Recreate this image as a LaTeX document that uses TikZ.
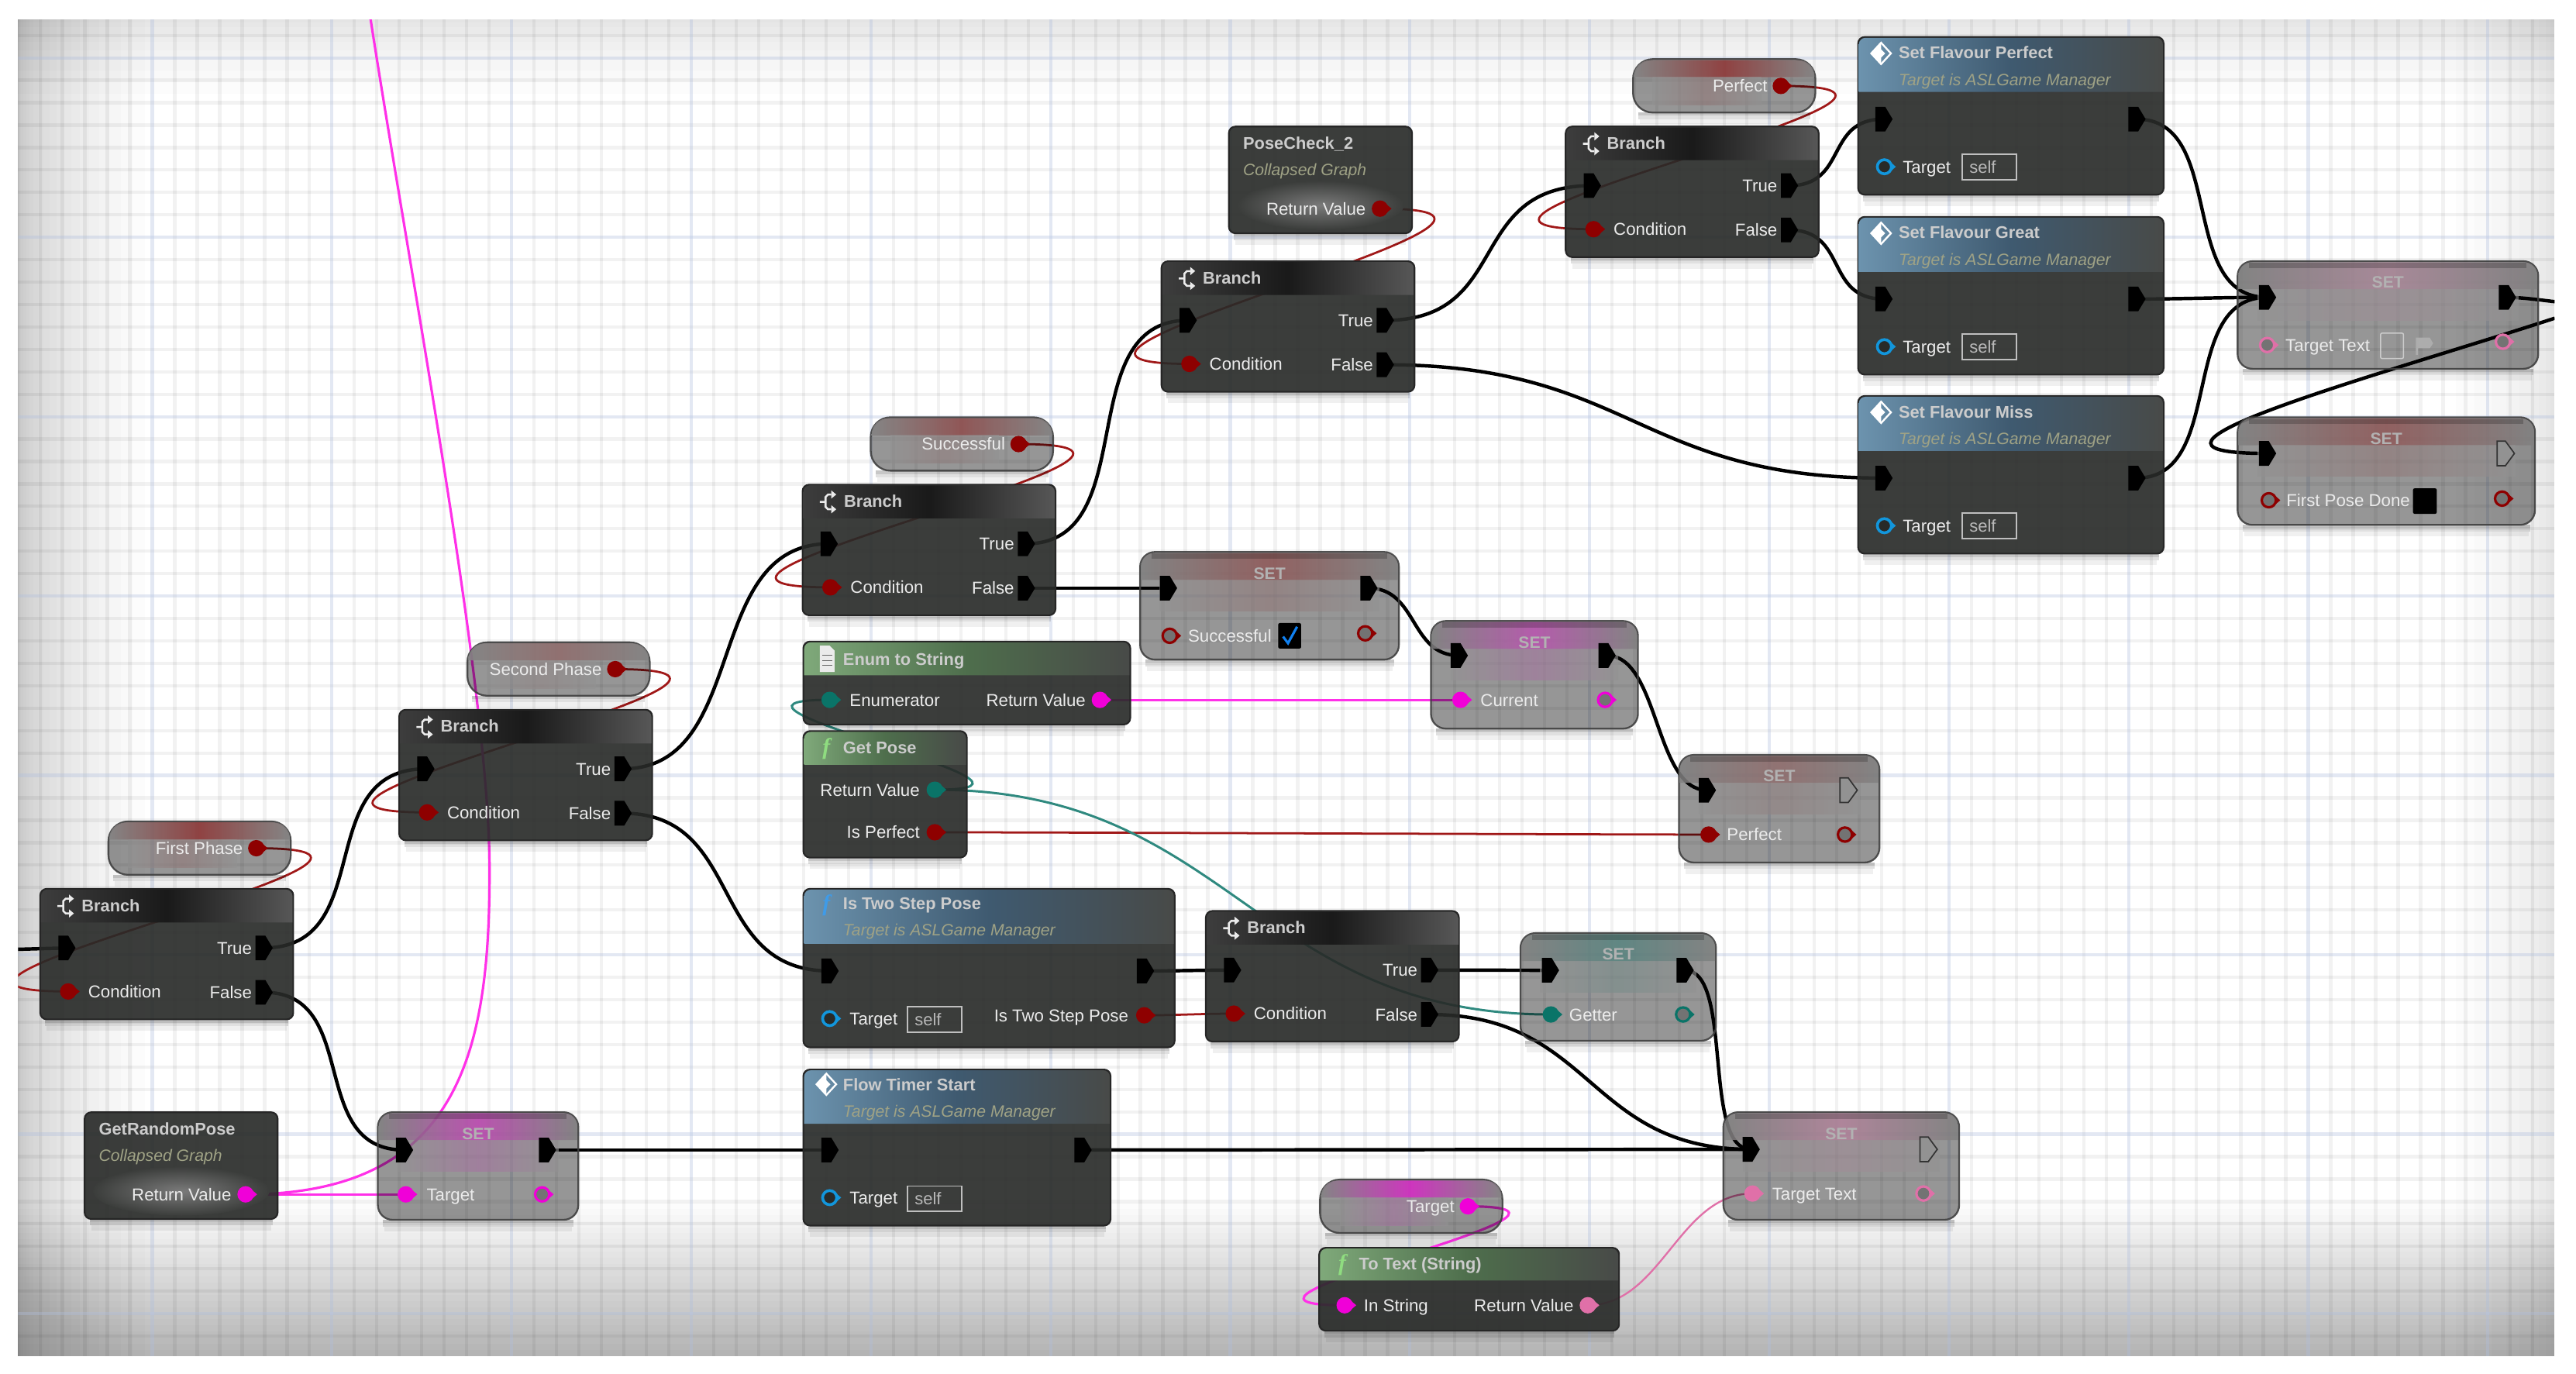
\documentclass[tikz,border=0pt]{standalone}
\usepackage{fontspec}
\setmainfont{Liberation Sans}
\usetikzlibrary{calc}
\pgfdeclarelayer{bgl}\pgfdeclarelayer{wirel}
\pgfsetlayers{bgl,wirel,main}
\definecolor{DB}{HTML}{282A28}
\definecolor{DBseen}{HTML}{3B3D3B}
\definecolor{nred}{HTML}{8E0000}
\definecolor{wred}{HTML}{A01818}
\definecolor{nteal}{HTML}{0A7468}
\definecolor{nmag}{HTML}{F000D8}
\definecolor{wmag}{HTML}{FF30E8}
\definecolor{npink}{HTML}{E070A8}
\definecolor{nblue}{HTML}{1296DC}
\definecolor{olive}{HTML}{9FA285}
\definecolor{ngray}{HTML}{929292}
\definecolor{hbL}{HTML}{6C93AE}
\definecolor{hbM}{HTML}{3F5A70}
\definecolor{hR}{HTML}{484A48}
\definecolor{hgL}{HTML}{7FA97A}
\definecolor{hgM}{HTML}{4E6E4C}
\definecolor{majorb}{HTML}{C4D4F6}
\definecolor{fblue}{HTML}{3F9BE8}
\definecolor{fcheck}{HTML}{1080F0}
\definecolor{fgreen}{HTML}{8FDC80}
\tikzset{
 execw/.style={draw=black,line width=2.1pt},
 redw/.style={draw=wred,line width=1.3pt},
 tealw/.style={draw=nteal!85!white,line width=1.4pt},
 magw/.style={draw=wmag,line width=1.5pt},
 pinkw/.style={draw=npink,line width=1.1pt},
 darkb/.style={rectangle,fill=DB,fill opacity=.91,draw=black!85,line width=1pt,rounded corners=4pt,inner sep=0pt,outer sep=0pt,anchor=north west},
 grayb/.style={rectangle,fill=black,fill opacity=.41,draw=black!75,draw opacity=.9,line width=1.1pt,rounded corners=9pt,inner sep=0pt,outer sep=0pt,anchor=north west},
 varb/.style={grayb,rounded corners=12pt},
 lbl/.style={font=\fontsize{10.5}{12}\selectfont,text=white!92!black,inner sep=0pt,anchor=west,text height=8pt,text depth=.5pt},
 lblr/.style={lbl,anchor=east},
 ttl/.style={font=\bfseries\fontsize{10.3}{12}\selectfont,text=white!80!black,inner sep=0pt,anchor=west,text height=8pt,text depth=.5pt},
 subt/.style={font=\itshape\fontsize{10}{12}\selectfont,text=olive,inner sep=0pt,anchor=west,text height=8pt,text depth=.5pt},
 settxt/.style={font=\bfseries\fontsize{10}{12}\selectfont,text=white!70!black,inner sep=0pt},
 selfb/.style={rectangle,draw=white!75!black,line width=.7pt,inner sep=0pt,font=\fontsize{10.4}{12}\selectfont,text=white!72!black,anchor=north west},
}
% body: name x1 y1 x2 y2 style
\newcommand\nbody[6]{%
 \pgfmathsetmacro\bw{#4-(#2)}\pgfmathsetmacro\bh{#5-(#3)}%
 \fill[black,opacity=.22] ({#2+3},{#5}) rectangle ({#4-3},{#5+2});
 \fill[black,opacity=.12] ({#2+3},{#5+2}) rectangle ({#4-3},{#5+4});
 \fill[black,opacity=.06] ({#2+4},{#5+4}) rectangle ({#4-4},{#5+7});
 \node[#6,minimum width=\bw pt,minimum height=\bh pt] (#1) at ({#2},{#3}) {};}
% header: x1 y1 x2 ybottom left mid right
\newcommand\hdr[7]{%
 \shade[left color=#5,right color=#7,middle color=#6]
   ({#1+.5},{#4}) [rounded corners=4pt] -- ({#1+.5},{#2+.5}) -- ({#3-.5},{#2+.5}) [sharp corners] -- ({#3-.5},{#4}) -- cycle;}
% SET band: x1 y1 x2 accent
\newcommand\setband[4]{%
 \shade[left color=ngray!88!black,right color=ngray!88!black,middle color=#4!72!ngray,opacity=.85]
   ({#1+.5},{#2+17}) [rounded corners=8pt] -- ({#1+.5},{#2+.6}) -- ({#3-.5},{#2+.6}) [sharp corners] -- ({#3-.5},{#2+17}) -- cycle;
 \shade[left color=ngray,right color=ngray,middle color=#4!32!ngray,opacity=.6]
   ({#1+12},{#2+17}) rectangle ({#3-12},{#2+36});
 \fill[black,opacity=.2] ({#1+7},{#2+1}) rectangle ({#3-7},{#2+4});}
% pins
\newcommand\xpin[3]{\coordinate (#1) at ({#2},{#3});
 \fill[black] (#1) +(-5,-7.5) -- +(1,-7.5) -- +(5.5,0) -- +(1,7.5) -- +(-5,7.5) -- cycle;}
\newcommand\xhol[3]{\coordinate (#1) at ({#2},{#3});
 \draw[black!80,line width=.8pt,fill=ngray] (#1) +(-5,-7.5) -- +(0,-7.5) -- +(5.5,0) -- +(0,7.5) -- +(-5,7.5) -- cycle;}
\newcommand\dpin[4]{\node[circle,fill=#4,minimum size=10pt,inner sep=0pt] (#1) at ({#2},{#3}) {};
 \fill[#4] (#1) +(3,-3.4) -- +(7,0) -- +(3,3.4) -- cycle;}
\newcommand\rpin[4]{\node[circle,draw=#4,line width=1.5pt,fill=black!55,minimum size=8.6pt,inner sep=0pt] (#1) at ({#2},{#3}) {};
 \fill[#4] (#1) +(4,-2.6) -- +(7,0) -- +(4,2.6) -- cycle;}
\newcommand\tpin[3]{\node[circle,draw=nblue,line width=1.7pt,fill=DB,minimum size=8.6pt,inner sep=0pt] (#1) at ({#2},{#3}) {};
 \fill[nblue] (#1) +(4,-2.6) -- +(7,0) -- +(4,2.6) -- cycle;}
\newcommand\lab[4]{\node[lbl] (#1) at ({#2},{#3}) {#4};}
\newcommand\labr[4]{\node[lblr] (#1) at ({#2},{#3}) {#4};}
% icons
\newcommand\ibranch[2]{\begin{scope}[shift={({#1},{#2})},white!92!black,line width=1.2pt]
 \draw (-6,0) -- (-2.5,0) (1,-4.5) -- (-1,-4.5) -- (-2.5,-3) -- (-2.5,3) -- (-1,4.5) -- (1,4.5);
 \fill (1,-7) -- (4,-4.5) -- (1,-2) -- cycle (1,2) -- (4,4.5) -- (1,7) -- cycle;
 \end{scope}}
\newcommand\idiamond[2]{\begin{scope}[shift={({#1},{#2})}]
 \draw[white,line width=1.1pt] (-6,0) -- (0,-6.5) -- (6,0) -- (0,6.5) -- cycle;
 \fill[white] (-6,0) -- (0,-6.5) -- (0,-2.5) -- (2.5,0) -- (0,2.5) -- (0,6.5) -- cycle;
 \end{scope}}
\newcommand\idoc[2]{\begin{scope}[shift={({#1},{#2})}]
 \fill[white!92!black] (-4,-8) -- (2,-8) -- (5,-5) -- (5,8) -- (-4,8) -- cycle;
 \draw[black!60,line width=.6pt] (-2.5,-2) -- (3.5,-2) (-2.5,1) -- (3.5,1) (-2.5,4) -- (3.5,4);
 \end{scope}}
\newcommand\ifn[3]{\node[font=\fontspec{Liberation Serif}\itshape\bfseries\fontsize{14}{14}\selectfont,text=#3,inner sep=0pt] (#1) at (#2) {f};}
% composite nodes
\newcommand\bnode[3]{%
 \nbody{#1}{#2}{#3}{#2+154}{#3+79.5}{darkb}
 \hdr{#2}{#3}{#2+154}{#3+20.5}{black!76}{black!90}{black!66}
 \ibranch{#2+16.5}{#3+10.5}
 \node[ttl] (#1t) at ({#2+25},{#3+10}) {Branch};
 \xpin{#1in}{#2+16}{#3+36}\xpin{#1tr}{#2+136}{#3+36}
 \dpin{#1c}{#2+17}{#3+62.5}{nred}\xpin{#1fa}{#2+136}{#3+63}
 \labr{#1la}{#2+129}{#3+36}{True}\labr{#1lb}{#2+129}{#3+63}{False}
 \lab{#1lc}{#2+29}{#3+62.5}{Condition}}
\newcommand\collapsed[5]{%
 \nbody{#1}{#2}{#3}{#4}{#3+65}{darkb}
 \shade[inner color=black!52,outer color=DBseen] ({(#2+#4)/2},{#3+48}) ellipse ({(#4-#2)/2-5} and 15);
 \node[ttl] (#1t) at ({#2+8.5},{#3+10}) {#5};
 \node[subt] (#1s) at ({#2+8.5},{#3+26}) {Collapsed Graph};
 \labr{#1l}{#4-28}{#3+50}{Return Value}}
\newcommand\setfn[4]{% name x y title
 \nbody{#1}{#2}{#3}{#2+186}{#3+96}{darkb}
 \hdr{#2}{#3}{#2+186}{#3+33.5}{hbL}{hbM}{hR}
 \idiamond{#2+14}{#3+10}
 \node[ttl] (#1t) at ({#2+24.5},{#3+9.5}) {#4};
 \node[subt] (#1s) at ({#2+24.5},{#3+26}) {Target is ASLGame Manager};
 \xpin{#1in}{#2+15.5}{#3+50}\xpin{#1out}{#2+169.5}{#3+50}
 \tpin{#1tg}{#2+16}{#3+79}
 \lab{#1l}{#2+27}{#3+79}{Target}
 \node[selfb,minimum width=33pt,minimum height=15.5pt] (#1b) at ({#2+63},{#3+71}) {\hspace*{-8pt}self};}
\newcommand\setnode[5]{% name x1 y1 x2 accent
 \nbody{#1}{#2}{#3}{#4}{#3+65.5}{grayb}
 \setband{#2}{#3}{#4}{#5}
 \node[settxt] (#1t) at ({(#2+#4)/2},{#3+13}) {SET};}
\newcommand\varnode[6]{% name x1 y1 accent text pincolor
 \nbody{#1}{#2}{#3}{#2+111}{#3+32.5}{varb}
 \shade[left color=ngray!90!black,right color=ngray!90!black,middle color=#4,opacity=.9]
  ({#2+.5},{#3+11}) [rounded corners=10pt] -- ({#2+.5},{#3+.6}) -- ({#2+110.5},{#3+.6}) [sharp corners] -- ({#2+110.5},{#3+11}) -- cycle;
 \shade[left color=ngray,right color=ngray,middle color=#4!30!ngray,opacity=.6] ({#2+12},{#3+11}) rectangle ({#2+78},{#3+28});
 \dpin{#1o}{#2+90}{#3+16.3}{#6}
 \labr{#1l}{#2+82}{#3+16.3}{#5}}
\newcommand\wire[4][execw]{\draw[#1] (#2.center) .. controls +(#4,0) and +(-#4,0) .. (#3.center);}
\begin{document}
\begin{tikzpicture}[x=1pt,y=-1pt]
\path[use as bounding box] (0,0) rectangle (1568,836.35);
\begin{pgfonlayer}{bgl}
 \fill[white] (0,0) rectangle (1568,836.35);
 \foreach \i in {1,...,20}{
   \pgfmathsetmacro\w{77*(\i/20)^2}
   \fill[black,opacity=.0105] (11,12) rectangle (11+\w,825.5);}
 \foreach \i in {1,...,9}{
   \pgfmathsetmacro\w{45*(\i/9)^1.5}
   \fill[black,opacity=.0105] (11,12) rectangle (1555,12+\w);}
 \foreach \i in {1,...,10}{
   \pgfmathsetmacro\w{60*(\i/10)^2}
   \fill[black,opacity=.0105] (1555-\w,12) rectangle (1555,825.5);}
 \foreach \i in {1,...,25}{
   \pgfmathsetmacro\w{93.5*\i/25}
   \fill[black,opacity=.0105] (11,825.5-\w) rectangle (1555,825.5);}
 \begin{scope}
 \clip (11,12) rectangle (1555,825.5);
 \foreach \k in {-6,...,106}{
   \pgfmathsetmacro\gx{92.7+13.67*\k}
   \draw[black,opacity=.05,line width=2pt] (\gx,12) -- (\gx,825.5);}
 \foreach \k in {-2,...,58}{
   \pgfmathsetmacro\gy{35.2+13.65*\k}
   \draw[black,opacity=.05,line width=2pt] (11,\gy) -- (1555,\gy);}
 \foreach \k in {0,...,13}{
   \pgfmathsetmacro\gx{92.7+109.36*\k}
   \draw[majorb,line width=2pt,opacity=.32] (\gx,12) -- (\gx,825.5);}
 \foreach \k in {0,...,7}{
   \pgfmathsetmacro\gy{35.2+109.2*\k}
   \draw[majorb,line width=2pt,opacity=.32] (11,\gy) -- (1555,\gy);}
 \end{scope}
\end{pgfonlayer}

% ---------- nodes
\bnode{bA}{24.5}{541}
\bnode{bB}{243}{432}
\bnode{bC}{488.5}{295}
\bnode{bD}{707}{159}
\bnode{bE}{953}{77}
\bnode{bF}{734}{554.5}
\varnode{vFirst}{66}{500}{nred!60!ngray}{First Phase}{nred}
\varnode{vSecond}{284.5}{391}{nred!25!ngray}{Second Phase}{nred}
\varnode{vSucc}{530}{254}{nred!45!ngray}{Successful}{nred}
\varnode{vPerf}{994}{36}{nred!60!ngray}{Perfect}{nred}
\varnode{vTarg}{803.5}{718}{nmag!70!ngray}{Target}{nmag}
\collapsed{cRand}{51.5}{677}{169}{GetRandomPose}
\dpin{cRando}{149.5}{727}{nmag}
\collapsed{cPose}{748}{77}{859.5}{PoseCheck\_2}
\dpin{cPoseo}{840}{127}{nred}
\setfn{fPerf}{1131}{22.5}{Set Flavour Perfect}
\setfn{fGreat}{1131}{132}{Set Flavour Great}
\setfn{fMiss}{1131}{241}{Set Flavour Miss}

% Flow Timer Start
\nbody{fFlow}{489}{651}{676}{746}{darkb}
\hdr{489}{651}{676}{684}{hbL}{hbM}{hR}
\idiamond{503}{660}
\node[ttl] (fFlowt) at (513,660) {Flow Timer Start};
\node[subt] (fFlows) at (513,676) {Target is ASLGame Manager};
\xpin{fFlowin}{505}{700}\xpin{fFlowout}{659}{700}
\tpin{fFlowtg}{505}{729}
\lab{fFlowl}{517}{729}{Target}
\node[selfb,minimum width=33pt,minimum height=15.5pt] (fFlowb) at (552,721.5) {\hspace*{-8pt}self};

% Is Two Step Pose
\nbody{fTwo}{489}{541}{715}{637.5}{darkb}
\hdr{489}{541}{715}{574.5}{hbL}{hbM}{hR}
\ifn{fTwoi}{503,551}{fblue}
\node[ttl] (fTwot) at (513,550) {Is Two Step Pose};
\node[subt] (fTwos) at (513,566) {Target is ASLGame Manager};
\xpin{fTwoin}{505}{591}\xpin{fTwoout}{697}{591}
\tpin{fTwotg}{505}{620}
\lab{fTwol}{517}{620}{Target}
\node[selfb,minimum width=33pt,minimum height=15.5pt] (fTwob) at (552,612.5) {\hspace*{-8pt}self};
\dpin{fTwoc}{696.5}{618}{nred}
\labr{fTwocl}{687}{618}{Is Two Step Pose}

% Enum to String
\nbody{fEnum}{489}{390.5}{688}{441}{darkb}
\hdr{489}{390.5}{688}{411}{hgL}{hgM}{hR}
\idoc{503}{401}
\node[ttl] (fEnumt) at (513,401) {Enum to String};
\dpin{fEnumin}{505}{426}{nteal}\dpin{fEnumo}{669.5}{426}{nmag}
\lab{fEnuml}{517}{426}{Enumerator}
\labr{fEnumr}{661}{426}{Return Value}

% Get Pose
\nbody{fGet}{489}{445}{588.5}{522}{darkb}
\hdr{489}{445}{588.5}{465.5}{hgL}{hgM}{hR}
\ifn{fGeti}{503,456}{fgreen}
\node[ttl] (fGett) at (513,455) {Get Pose};
\dpin{fGeto}{569}{480.7}{nteal}\dpin{fGetp}{569}{506.6}{nred}
\labr{fGetr}{560}{480.7}{Return Value}
\labr{fGets}{560}{506.6}{Is Perfect}

% To Text
\nbody{fText}{803}{759.5}{985.5}{810}{darkb}
\hdr{803}{759.5}{985.5}{779.5}{hgL}{hgM}{hR}
\ifn{fTexti}{817,770}{fgreen}
\node[ttl] (fTextt) at (827,769) {To Text (String)};
\dpin{fTextin}{818.5}{794.5}{nmag}\dpin{fTexto}{966.5}{794.5}{npink}
\lab{fTextl}{830}{794.5}{In String}
\labr{fTextr}{958}{794.5}{Return Value}

% SET nodes
\setnode{sA}{230}{677}{352}{nmag!70!ngray}
\xpin{sAin}{246}{700}\xpin{sAout}{333}{700}
\dpin{sAt}{247}{727}{nmag}\rpin{sAo}{330}{727}{nmag}\lab{sAl}{259.5}{727}{Target}

\setnode{sB}{694}{336}{851.5}{nred!55!ngray}
\xpin{sBin}{711}{358}\xpin{sBout}{833}{358}
\rpin{sBt}{712}{387}{nred}\rpin{sBo}{831}{385.5}{nred}\lab{sBl}{723}{387}{Successful}
\node[rectangle,fill=black,minimum width=14pt,minimum height=15.5pt,rounded corners=1pt,inner sep=0pt] (sBc) at (785,387) {};
\draw[fcheck,line width=1.5pt] (781,387.5) -- (784,391.5) -- (789.5,381.5);

\setnode{sC}{871}{378}{997}{nmag!60!ngray}
\xpin{sCin}{888}{399}\xpin{sCout}{978}{399}
\dpin{sCt}{889}{426}{nmag}\rpin{sCo}{977}{426}{nmag}\lab{sCl}{901}{426}{Current}

\setnode{sD}{1022}{459.5}{1144}{nred!35!ngray}
\xpin{sDin}{1039}{481}\xhol{sDout}{1125}{481}
\dpin{sDt}{1040}{508}{nred}\rpin{sDo}{1123}{508}{nred}\lab{sDl}{1051}{508}{Perfect}

\setnode{sE}{925.5}{568}{1044.5}{nteal!60!ngray}
\xpin{sEin}{943.5}{590.6}\xpin{sEout}{1025.5}{590.6}
\dpin{sEt}{944}{617.5}{nteal}\rpin{sEo}{1024.5}{617.5}{nteal}\lab{sEl}{955}{617.5}{Getter}

\setnode{sF}{1049}{677}{1192.5}{npink!60!ngray}
\xpin{sFin}{1065.7}{699.6}\xhol{sFout}{1173.7}{699.6}
\dpin{sFt}{1066.7}{726.5}{npink}\rpin{sFo}{1170.8}{726.5}{npink}\lab{sFl}{1078.5}{726.5}{Target Text}

\setnode{sG}{1362}{159}{1545}{npink!45!ngray}
\xpin{sGin}{1380}{181}\xpin{sGout}{1526}{181}
\rpin{sGt}{1380}{210}{npink}\rpin{sGo}{1523.5}{208}{npink}\lab{sGl}{1391}{210}{Target Text}
\node[rectangle,draw=white!80!black,line width=.7pt,minimum width=14pt,minimum height=15.5pt,rounded corners=1pt,inner sep=0pt] (sGb) at (1456,210.5) {};
\fill[white!68!black] (1470.5,205.5) -- (1479,205.5) -- (1481,209) -- (1479,212) -- (1471.8,212) -- (1471.8,216) -- (1470.5,216) -- cycle;

\setnode{sH}{1362}{254}{1543}{nred!55!ngray}
\xpin{sHin}{1380}{276}\xhol{sHout}{1525}{276}
\rpin{sHt}{1381}{304.5}{nred}\rpin{sHo}{1523}{303.5}{nred}\lab{sHl}{1391.5}{304.5}{First Pose Done}
\node[rectangle,fill=black,minimum width=14.5pt,minimum height=15.5pt,rounded corners=1pt,inner sep=0pt] (sHb) at (1476,305) {};

% free ends
\coordinate (leftend) at (5,578);
\coordinate (rightA) at (1560,184);
\coordinate (rightB) at (1555,193.7);
\coordinate (topend) at (225,8);

% ---------- connectors (behind the translucent nodes)
\begin{pgfonlayer}{wirel}
\clip (11,12) rectangle (1555,825.5);
\draw[execw] (leftend) -- (bAin.center);
\wire{bAtr}{bBin}{70}
\wire{bAfa}{sAin}{60}
\wire{sAout}{fFlowin}{40}
\wire{fFlowout}{sFin}{80}
\wire{bBtr}{bCin}{78}
\wire{bBfa}{fTwoin}{75}
\wire{fTwoout}{bFin}{20}
\wire{bFtr}{sEin}{25}
\wire{sEout}{sFin}{30}
\wire{bFfa}{sFin}{100}
\wire{bCtr}{bDin}{72}
\wire{bCfa}{sBin}{30}
\wire{sBout}{sCin}{30}
\wire{sCout}{sDin}{32}
\wire{bDtr}{bEin}{78}
\wire{bDfa}{fMissin}{150}
\wire{bEtr}{fPerfin}{36}
\wire{bEfa}{fGreatin}{36}
\wire{fPerfout}{sGin}{55}
\wire{fGreatout}{sGin}{30}
\wire{fMissout}{sGin}{55}
\draw[execw] (sGout.center) .. controls +(12,0) and +(-5,0) .. (rightA);
\draw[execw] (rightB) .. controls (1450,228) and (1270,276) .. (sHin.center);
\wire[redw]{vFirsto}{bAc}{150}
\wire[redw]{vSecondo}{bBc}{150}
\wire[redw]{vSucco}{bCc}{150}
\wire[redw]{cPoseo}{bDc}{150}
\wire[redw]{vPerfo}{bEc}{150}
\wire[redw]{fGetp}{sDt}{60}
\wire[redw]{fTwoc}{bFc}{20}
\wire[tealw]{fGeto}{fEnumin}{100}
\wire[tealw]{fGeto}{sEt}{180}
\wire[magw]{fEnumo}{sCt}{60}
\wire[magw]{cRando}{sAt}{30}
\draw[magw] (cRando.center) .. controls (280,727) and (298,640) .. (298,530) .. controls (298,420) and (250,170) .. (topend);
\wire[magw]{vTargo}{fTextin}{110}
\wire[pinkw]{fTexto}{sFt}{45}
\end{pgfonlayer}
\end{tikzpicture}
\end{document}
